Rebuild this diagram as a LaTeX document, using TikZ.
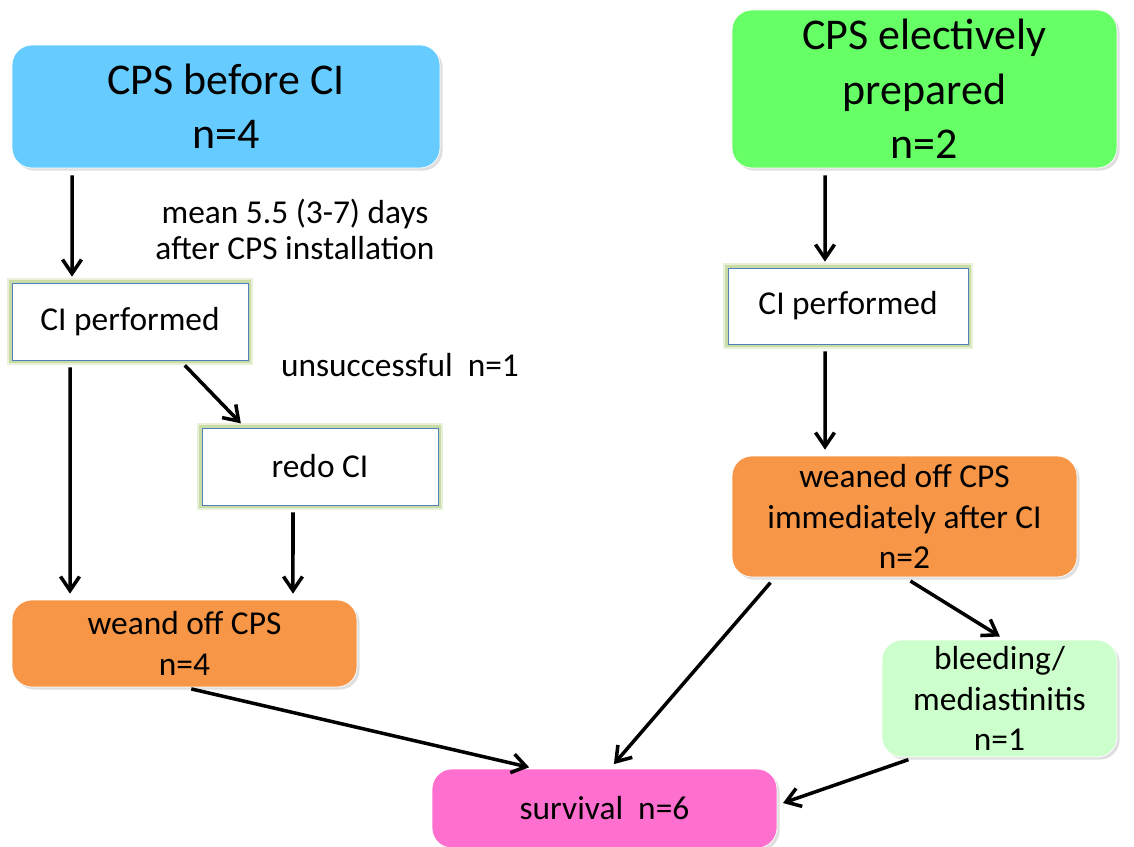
\documentclass[tikz,border=0pt]{standalone}
\usepackage{fontspec}
\setmainfont{Carlito}
\usetikzlibrary{shadows,arrows.meta}

\definecolor{cpsblue}{HTML}{66CCFF}
\definecolor{cpsgreen}{HTML}{66FF66}
\definecolor{weanorange}{HTML}{F79646}
\definecolor{bleedgreen}{HTML}{CCFFCC}
\definecolor{survpink}{HTML}{FF6FD0}
\definecolor{edgeblue}{HTML}{4F81BD}
\definecolor{glowgreen}{HTML}{B5CE82}

\begin{document}
\begin{tikzpicture}[x=0.02cm,y=-0.02cm,
  big node/.style={rounded corners=0.4cm,draw=white,thin,align=center,
    font=\fontsize{25}{31}\selectfont,inner sep=0pt,
    drop shadow={opacity=0.25,shadow xshift=1.5pt,shadow yshift=-1.5pt}},
  main node/.style={rounded corners=0.4cm,draw=white,thin,align=center,
    font=\fontsize{19}{23}\selectfont,inner sep=0pt,
    drop shadow={opacity=0.25,shadow xshift=1.5pt,shadow yshift=-1.5pt}},
  plain node/.style={draw=edgeblue,fill=white,thin,align=center,
    font=\fontsize{19}{23}\selectfont,inner sep=0pt,
    preaction={draw=glowgreen,line width=6pt,opacity=0.3},
    preaction={draw=glowgreen,line width=3.5pt,opacity=0.6}},
  arr/.style={-{Straight Barb[length=2.8mm,width=3.8mm]},line width=2pt,
    shorten <=0.14cm,shorten >=0.12cm}]

  \useasboundingbox (0,0) rectangle (1134,847);

  % left branch
  \node[big node,fill=cpsblue,minimum width=8.56cm,minimum height=2.46cm]
    (before) at (226,106.5) {CPS before CI\\n=4};
  \node[plain node,minimum width=4.72cm,minimum height=1.54cm]
    (ciL) at (130,321.5) {CI performed};
  \node[plain node,minimum width=4.72cm,minimum height=1.54cm]
    (redo) at (320,466.5) {redo CI};
  \node[main node,fill=weanorange,minimum width=6.9cm,minimum height=1.74cm]
    (weand) at (184.5,643.5) {weand off CPS\\n=4};

  % right branch
  \node[big node,fill=cpsgreen,minimum width=7.7cm,minimum height=3.16cm]
    (elect) at (924.5,89) {CPS electively\\prepared\\n=2};
  \node[plain node,minimum width=4.8cm,minimum height=1.52cm]
    (ciR) at (848,306) {CI performed};
  \node[main node,fill=weanorange,minimum width=6.9cm,minimum height=2.42cm]
    (weaned) at (904.5,516.5) {weaned off CPS\\immediately after CI\\n=2};
  \node[main node,fill=bleedgreen,minimum width=4.7cm,minimum height=2.34cm]
    (bleed) at (999.5,698.5) {bleeding/\\mediastinitis\\n=1};

  \node[main node,fill=survpink,minimum width=6.9cm,minimum height=1.58cm]
    (surv) at (604.5,808.5) {survival\ \ n=6};

  % labels
  \node[align=center,font=\fontsize{19}{20.5}\selectfont] (meantxt) at (295,229)
    {mean 5.5 (3-7) days\\after CPS installation};
  \node[font=\fontsize{19}{23}\selectfont] (unsucc) at (400,365)
    {unsuccessful\ \ n=1};

  % connectors
  \draw[arr] ([xshift=-3.08cm]before.south) -- ([xshift=-1.16cm]ciL.north);
  \draw[arr] ([xshift=-1.2cm]ciL.south) -- ([xshift=-2.29cm]weand.north);
  \draw[arr] ([xshift=1cm]ciL.south) -- ([xshift=-1.5cm]redo.north);
  \draw[arr] ([xshift=-0.54cm]redo.south) -- ([xshift=2.17cm]weand.north);
  \draw[arr] (weand.south) -- ([xshift=-1.39cm]surv.north);
  \draw[arr] ([xshift=-1.99cm]elect.south) -- ([xshift=-0.46cm]ciR.north);
  \draw[arr] ([xshift=-0.46cm]ciR.south) -- ([xshift=-1.59cm]weaned.north);
  \draw[arr] ([xshift=-2.59cm]weaned.south) -- ([xshift=0.11cm]surv.north);
  \draw[arr] (weaned.south) -- ([xshift=0.11cm]bleed.north);
  \draw[arr] ([xshift=-1.69cm]bleed.south) -- ([yshift=0.07cm]surv.east);
\end{tikzpicture}
\end{document}
